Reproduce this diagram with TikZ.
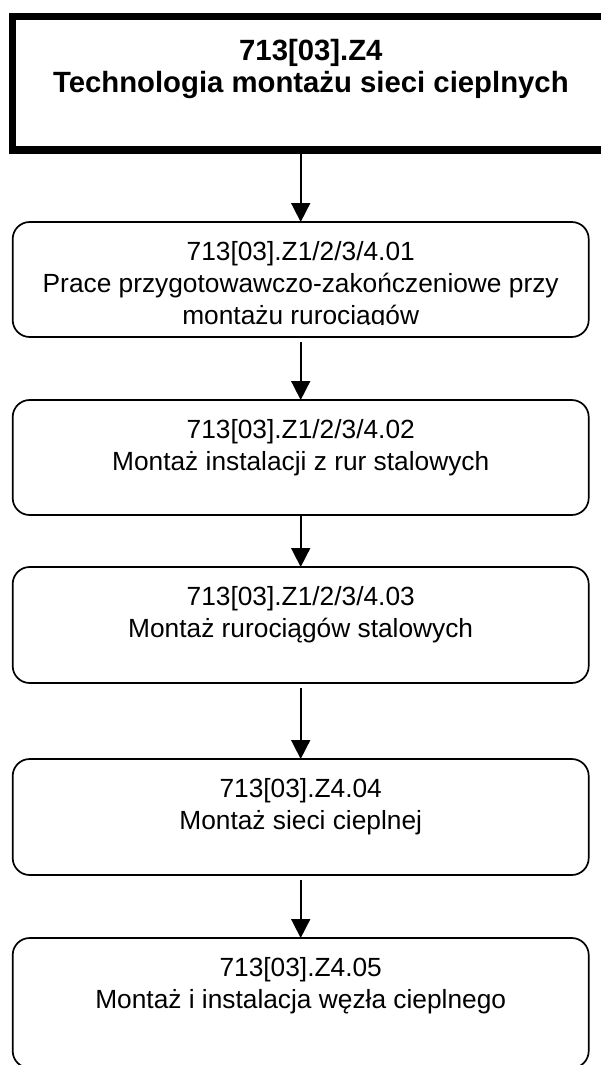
\documentclass[tikz,border=0pt]{standalone}
\usepackage{fontspec}
\setmainfont{Liberation Sans}
\usetikzlibrary{arrows.meta,positioning}

\begin{document}
\begin{tikzpicture}[x=1pt, y=-1pt,
    topbox/.style={rectangle, draw=black, line width=7.5pt, outer sep=0pt, minimum width=596.3pt, minimum height=133.7pt},
    stepbox/.style={rectangle, draw=black, line width=1.7pt, rounded corners=17pt, outer sep=0pt, minimum width=576pt, minimum height=115pt},
    ttl/.style={font=\fontsize{29.3pt}{32pt}\selectfont\bfseries, align=center, inner sep=0pt},
    lbl/.style={font=\fontsize{26.3pt}{32pt}\selectfont, align=center, inner sep=0pt},
    flow/.style={-{Triangle[width=19pt, length=19pt]}, line width=1.7pt}
]
    \useasboundingbox (0,0) rectangle (601,1065);
    \clip (0,0) rectangle (601,1065);

    % Main unit
    \node[topbox] (top) at (310.85, 83.15) {};
    \node[ttl, below=22.3pt of top.north] (ttop) {713[03].Z4\\Technologia montażu sieci cieplnych};

    % Module boxes
    \node[stepbox] (m1) at (300.7, 279.5) {};
    \node[stepbox] (m2) at (300.7, 457.5) {};
    \node[stepbox, minimum height=116pt] (m3) at (300.7, 625) {};
    \node[stepbox, minimum height=116pt] (m4) at (300.7, 817) {};
    \node[stepbox, minimum height=130pt] (m5) at (300.7, 1003) {};

    % Module texts
    \begin{scope}
        \clip (m1.north west) rectangle ([yshift=12.5pt]m1.south east);
        \node[lbl, below=18.8pt of m1.north] (t1) {713[03].Z1/2/3/4.01\\Prace przygotowawczo-zakończeniowe przy\\montażu rurociągów};
    \end{scope}
    \node[lbl, below=18.8pt of m2.north] (t2) {713[03].Z1/2/3/4.02\\Montaż instalacji z rur stalowych};
    \node[lbl, below=18.8pt of m3.north] (t3) {713[03].Z1/2/3/4.03\\Montaż rurociągów stalowych};
    \node[lbl, below=18.8pt of m4.north] (t4) {713[03].Z4.04\\Montaż sieci cieplnej};
    \node[lbl, below=18.8pt of m5.north] (t5) {713[03].Z4.05\\Montaż i instalacja węzła cieplnego};

    % Flows
    \draw[flow] (top.south -| m1.north) -- (m1.north);
    \draw[flow, shorten <=5pt] (m1) -- (m2);
    \draw[flow] (m2) -- (m3);
    \draw[flow, shorten <=5pt] (m3) -- (m4);
    \draw[flow, shorten <=5pt] (m4) -- (m5);

\end{tikzpicture}
\end{document}
